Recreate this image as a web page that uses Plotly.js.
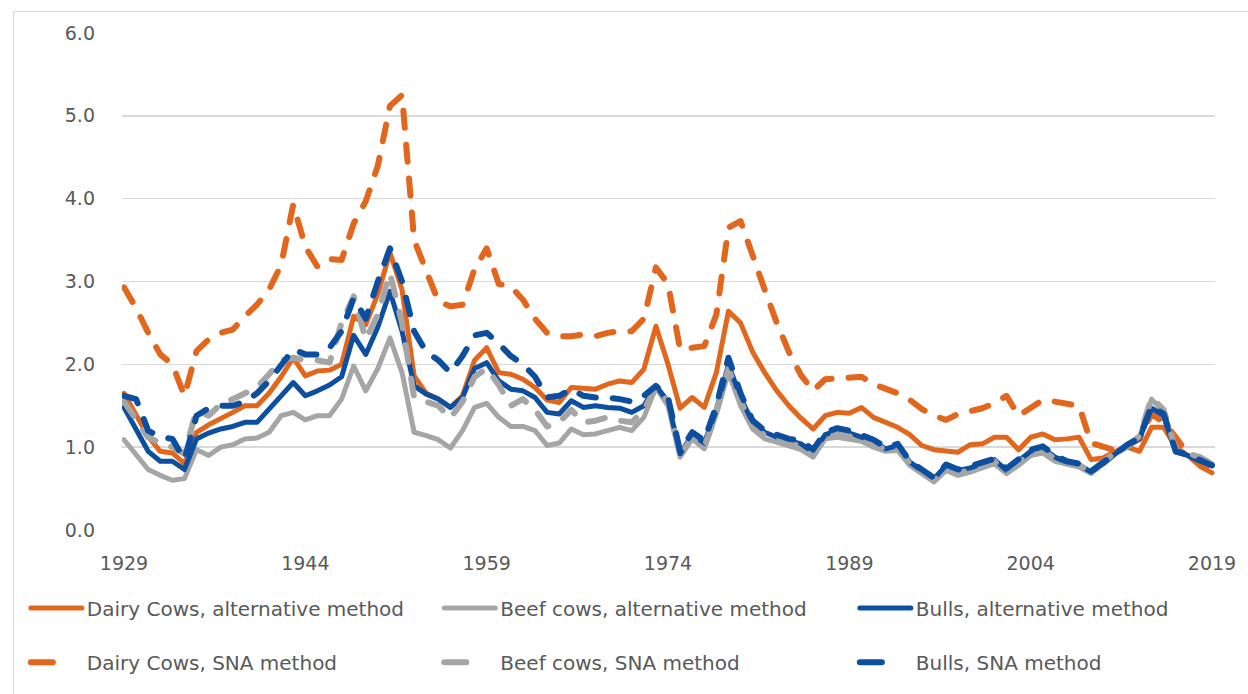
<!DOCTYPE html>
<html><head><meta charset="utf-8">
<script src="https://cdn.plot.ly/plotly-3.0.1.min.js"></script>
<style>
html,body{margin:0;padding:0;background:#fff;}
#frame{position:absolute;left:13px;top:11px;width:1235px;height:683px;border-left:1.5px solid #d9d9d9;border-top:1.5px solid #d9d9d9;}
#chart{position:absolute;left:14px;top:12px;width:1234px;height:682px;}
.js-line{stroke-linecap:round;stroke-linejoin:round;}
</style></head><body>
<div id="frame"></div>
<div id="chart"></div>
<script>
var years = [];
for (var yr = 1929; yr <= 2019; yr++) years.push(yr);
var xTicks = [1929, 1944, 1959, 1974, 1989, 2004, 2019];
var yTicks = [0, 1, 2, 3, 4, 5, 6];

var dairyAlt = [
 1.65, 1.38, 1.13, 0.95, 0.93, 0.80, 1.18, 1.27, 1.34, 1.42,
 1.50, 1.50, 1.65, 1.85, 2.08, 1.86, 1.92, 1.93, 2.00, 2.58,
 2.48, 2.85, 3.35, 2.90, 1.86, 1.65, 1.58, 1.48, 1.62, 2.05,
 2.20, 1.90, 1.88, 1.82, 1.72, 1.57, 1.54, 1.72, 1.71, 1.70,
 1.76, 1.80, 1.78, 1.94, 2.46, 2.00, 1.47, 1.60, 1.48, 1.90,
 2.64, 2.50, 2.15, 1.90, 1.68, 1.50, 1.35, 1.22, 1.38, 1.42,
 1.41, 1.48, 1.36, 1.30, 1.24, 1.15, 1.02, 0.97, 0.96, 0.94,
 1.03, 1.04, 1.12, 1.12, 0.97, 1.12, 1.16, 1.09, 1.10, 1.12,
 0.85, 0.87, 0.95, 1.00, 0.95, 1.24, 1.24, 1.00, 0.90, 0.77,
 0.69];
var beefAlt = [
 1.09, 0.90, 0.73, 0.66, 0.60, 0.62, 0.97, 0.90, 1.00, 1.03,
 1.10, 1.11, 1.18, 1.38, 1.42, 1.33, 1.38, 1.38, 1.58, 1.98,
 1.68, 1.95, 2.32, 1.90, 1.18, 1.14, 1.09, 0.99, 1.20, 1.48,
 1.53, 1.36, 1.25, 1.25, 1.20, 1.02, 1.05, 1.22, 1.15, 1.16,
 1.20, 1.24, 1.20, 1.36, 1.72, 1.50, 0.88, 1.10, 0.98, 1.40,
 1.90, 1.50, 1.22, 1.10, 1.06, 1.02, 0.97, 0.88, 1.10, 1.12,
 1.10, 1.07, 1.00, 0.95, 0.96, 0.78, 0.68, 0.58, 0.72, 0.66,
 0.70, 0.75, 0.80, 0.68, 0.78, 0.90, 0.93, 0.83, 0.80, 0.76,
 0.68, 0.80, 0.92, 1.00, 1.12, 1.58, 1.42, 0.95, 0.90, 0.86,
 0.80];
var bullsAlt = [
 1.48, 1.20, 0.95, 0.83, 0.83, 0.73, 1.10, 1.17, 1.22, 1.25,
 1.30, 1.30, 1.45, 1.62, 1.78, 1.62, 1.68, 1.75, 1.85, 2.35,
 2.12, 2.45, 2.88, 2.40, 1.74, 1.64, 1.58, 1.48, 1.60, 1.95,
 2.02, 1.80, 1.70, 1.68, 1.60, 1.42, 1.40, 1.56, 1.48, 1.50,
 1.48, 1.47, 1.42, 1.50, 1.74, 1.55, 0.92, 1.15, 1.05, 1.45,
 2.00, 1.60, 1.30, 1.18, 1.12, 1.08, 1.04, 0.94, 1.15, 1.20,
 1.17, 1.12, 1.07, 0.98, 1.02, 0.82, 0.72, 0.62, 0.78, 0.72,
 0.75, 0.80, 0.85, 0.72, 0.83, 0.95, 0.99, 0.88, 0.82, 0.79,
 0.70, 0.80, 0.92, 1.02, 1.10, 1.47, 1.38, 0.94, 0.90, 0.83,
 0.78];
var dairySNA = [
 2.93, 2.68, 2.38, 2.12, 2.00, 1.62, 2.16, 2.30, 2.38, 2.42,
 2.58, 2.72, 2.90, 3.20, 3.93, 3.42, 3.18, 3.27, 3.26, 3.70,
 3.97, 4.40, 5.12, 5.25, 3.50, 3.12, 2.76, 2.70, 2.72, 3.15,
 3.40, 2.97, 2.94, 2.78, 2.55, 2.38, 2.34, 2.34, 2.36, 2.34,
 2.38, 2.40, 2.40, 2.55, 3.17, 2.97, 2.18, 2.20, 2.22, 2.60,
 3.65, 3.73, 3.30, 2.90, 2.50, 2.15, 1.87, 1.68, 1.82, 1.83,
 1.84, 1.85, 1.76, 1.70, 1.65, 1.57, 1.46, 1.38, 1.33, 1.40,
 1.43, 1.47, 1.53, 1.62, 1.38, 1.47, 1.57, 1.55, 1.53, 1.50,
 1.05, 1.00, 0.96, 1.02, 1.10, 1.40, 1.30, 1.12, 0.92, 0.82,
 0.74];
var beefSNA = [
 1.55, 1.35, 1.12, 1.05, 1.00, 0.92, 1.45, 1.38, 1.52, 1.58,
 1.66, 1.72, 1.88, 2.05, 2.08, 2.05, 2.05, 2.02, 2.50, 2.82,
 2.30, 2.60, 3.10, 2.50, 1.60, 1.55, 1.50, 1.35, 1.55, 1.85,
 1.95, 1.75, 1.50, 1.58, 1.45, 1.25, 1.30, 1.45, 1.30, 1.32,
 1.36, 1.32, 1.30, 1.45, 1.72, 1.55, 0.90, 1.12, 1.00, 1.42,
 1.95, 1.55, 1.26, 1.14, 1.10, 1.06, 1.00, 0.90, 1.12, 1.16,
 1.13, 1.10, 1.03, 0.97, 0.99, 0.80, 0.70, 0.60, 0.75, 0.69,
 0.72, 0.78, 0.83, 0.70, 0.81, 0.93, 0.96, 0.86, 0.82, 0.78,
 0.70, 0.82, 0.94, 1.02, 1.13, 1.60, 1.45, 0.97, 0.92, 0.88,
 0.80];
var bullsSNA = [
 1.62, 1.58, 1.20, 1.12, 1.10, 0.85, 1.38, 1.47, 1.50, 1.50,
 1.55, 1.65, 1.80, 1.98, 2.18, 2.12, 2.12, 2.20, 2.40, 2.80,
 2.55, 3.00, 3.40, 3.00, 2.40, 2.15, 2.05, 1.90, 2.10, 2.35,
 2.38, 2.25, 2.10, 2.00, 1.85, 1.60, 1.62, 1.70, 1.62, 1.60,
 1.60, 1.58, 1.55, 1.62, 1.74, 1.60, 0.95, 1.18, 1.08, 1.50,
 2.08, 1.65, 1.32, 1.20, 1.15, 1.10, 1.08, 0.97, 1.18, 1.23,
 1.20, 1.14, 1.09, 1.00, 1.04, 0.83, 0.73, 0.63, 0.79, 0.73,
 0.77, 0.81, 0.86, 0.74, 0.85, 0.97, 1.01, 0.90, 0.83, 0.80,
 0.71, 0.82, 0.93, 1.03, 1.11, 1.50, 1.40, 0.95, 0.91, 0.84,
 0.78];

var ORANGE = '#E2661C', GRAY = '#A5A5A5', BLUE = '#0C4EA0';
var DASH = '17px,17px';

function tr(name, y, color, dashed, legend) {
  return {
    type: 'scatter', mode: 'lines', x: years, y: y, name: name,
    legend: legend,
    line: {color: color, width: dashed ? 6 : 5, dash: dashed ? DASH : 'solid'},
    hoverinfo: 'x+y+name'
  };
}

// drawing order: SNA dairy under the overlapping beef/bulls lines
var data = [
  tr('Dairy Cows, alternative method', dairyAlt, ORANGE, false, 'legend'),
  tr('Dairy Cows, SNA method', dairySNA, ORANGE, true, 'legend4'),
  tr('Beef cows, alternative method', beefAlt, GRAY, false, 'legend2'),
  tr('Bulls, alternative method', bullsAlt, BLUE, false, 'legend3'),
  tr('Beef cows, SNA method', beefSNA, GRAY, true, 'legend5'),
  tr('Bulls, SNA method', bullsSNA, BLUE, true, 'legend6')
];

var FONT = 'DejaVu Sans';
var TXT = '#595959';
function leg(x, y) {
  return {
    orientation: 'v', xanchor: 'left', yanchor: 'middle', x: x, y: y,
    font: {family: FONT, size: 20, color: TXT},
    itemwidth: 51, bgcolor: 'rgba(0,0,0,0)', borderwidth: 0
  };
}
var colX = [-0.088, 0.2903, 0.6705];
var rowY = [-0.157, -0.266];

var layout = {
  width: 1234, height: 682,
  margin: {l: 104, r: 33, t: 21, b: 154},
  paper_bgcolor: '#fff', plot_bgcolor: '#fff',
  showlegend: true,
  legend: leg(colX[0], rowY[0]), legend2: leg(colX[1], rowY[0]), legend3: leg(colX[2], rowY[0]),
  legend4: leg(colX[0], rowY[1]), legend5: leg(colX[1], rowY[1]), legend6: leg(colX[2], rowY[1]),
  font: {family: FONT, color: TXT},
  xaxis: {
    type: 'linear', range: [1928.835, 2019.247], automargin: false,
    tickmode: 'array', tickvals: xTicks, ticktext: xTicks.map(String),
    showgrid: false, zeroline: false, showline: false, ticks: '',
    ticklabelstandoff: 20,
    tickfont: {family: FONT, size: 19, color: TXT}
  },
  yaxis: {
    range: [0, 6], tickmode: 'array', tickvals: yTicks, tickformat: '.1f', automargin: false,
    showgrid: true, gridcolor: '#d9d9d9', gridwidth: 1.5,
    zeroline: false, showline: false, ticks: '',
    ticklabelstandoff: 26,
    tickfont: {family: FONT, size: 19, color: TXT}
  }
};

Plotly.newPlot('chart', data, layout, {displayModeBar: false, staticPlot: true}).then(function () {
  // SNA legend keys: a single short dash, as in the original
  ['legend4', 'legend5', 'legend6'].forEach(function (id) {
    document.querySelectorAll('g.' + id + ' .legendlines path').forEach(function (p) {
      p.setAttribute('d', 'M5,0h22');
      p.style.strokeDasharray = 'none';
    });
  });
});
</script>
</body></html>
